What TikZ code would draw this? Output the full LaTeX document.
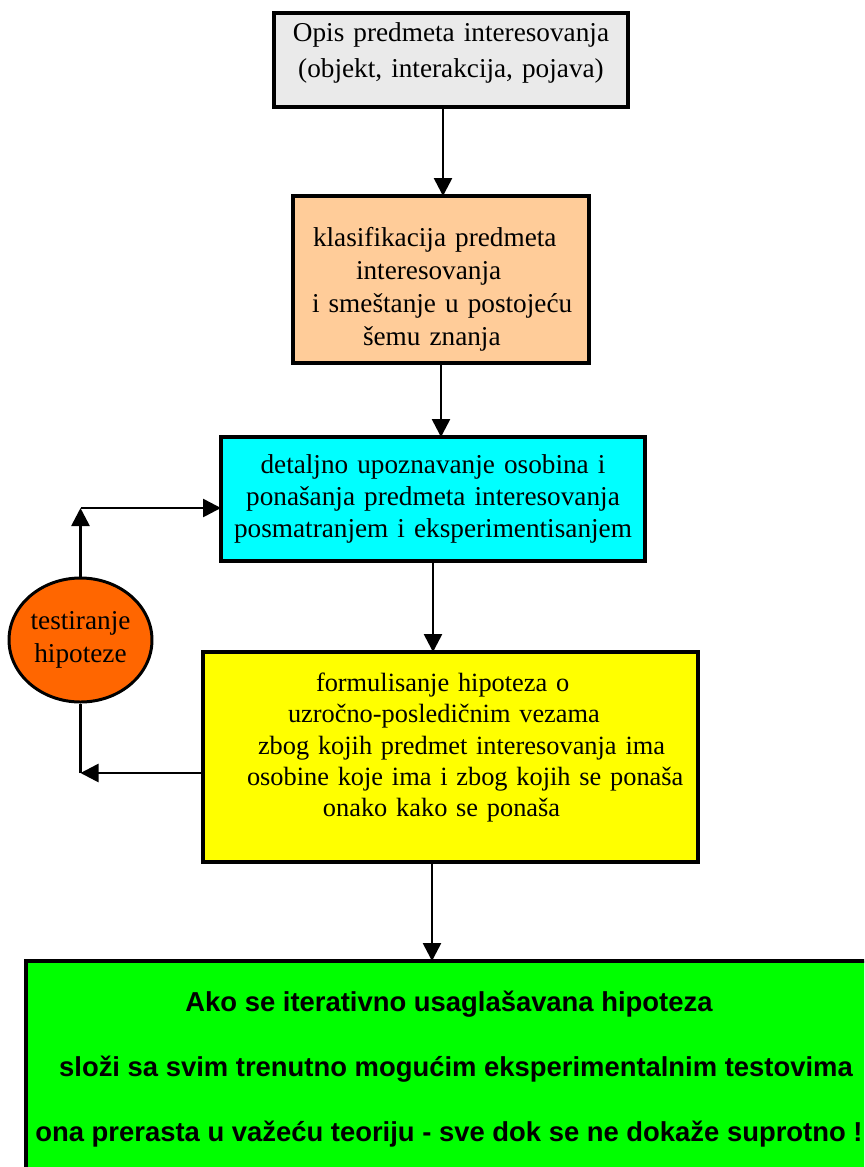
\documentclass[tikz,border=0pt]{standalone}
\usepackage{fontspec}
\setmainfont{Liberation Serif}
\newfontfamily\headfont{Liberation Sans}
\usepackage{xcolor}
\definecolor{greybox}{RGB}{234,234,234}
\definecolor{peach}{RGB}{255,204,153}
\definecolor{aqua}{RGB}{0,255,255}
\definecolor{lemon}{RGB}{255,255,0}
\definecolor{brightgreen}{RGB}{0,255,0}
\definecolor{tangerine}{RGB}{255,102,0}
\usetikzlibrary{arrows.meta,positioning,shapes.geometric}

\begin{document}
\begin{tikzpicture}[>={Triangle[length=0.36cm,width=0.36cm]}, line width=1.5pt,
    stage/.style={draw, rectangle, line width=1.9pt, inner xsep=0pt, inner ysep=0pt,
                  outer sep=0pt, font=\fontsize{15.5}{18}\selectfont},
    flow/.style={->},
    link/.style={-}]
    \useasboundingbox (0,0) rectangle (17.28,-23.34);
    \clip (0,0) rectangle (17.28,-23.34);

    % Stages of the method, top to bottom
    \node[stage, fill=greybox, text width=7.08cm, align=center, minimum height=1.88cm,
          text height=2.7pt, font=\fontsize{15.5}{20}\selectfont] (opis) at (9.02,-1.2)
          {Opis predmeta interesovanja\\(objekt, interakcija, pojava)};
    \node[stage, fill=peach, text width=5.92cm, align=left, minimum height=3.34cm,
          text height=22pt, font=\fontsize{15.5}{18.8}\selectfont]
          (klas) [below=1.78cm of opis, xshift=-0.2cm]
          {\hspace*{0.4cm}klasifikacija predmeta\\
           \hspace*{1.26cm}interesovanja\\
           \hspace*{0.38cm}i smeštanje u postojeću\\
           \hspace*{1.4cm}šemu znanja};
    \node[stage, fill=aqua, text width=8.48cm, align=center, minimum height=2.48cm]
          (upoz) [below=1.48cm of klas, xshift=-0.16cm]
          {detaljno upoznavanje osobina i\\
           ponašanja predmeta interesovanja\\
           posmatranjem i eksperimentisanjem};
    \node[stage, fill=lemon, text width=9.9cm, align=left, minimum height=4.2cm,
          text height=0pt, font=\fontsize{15}{17.8}\selectfont]
          (hipo) [below=1.82cm of upoz, xshift=0.35cm]
          {\hspace*{2.26cm}formulisanje hipoteza o\\
           \hspace*{1.7cm}uzročno-posledičnim vezama\\
           \hspace*{1.1cm}zbog kojih predmet interesovanja ima\\
           \hspace*{0.88cm}osobine koje ima i zbog kojih se ponaša\\
           \hspace*{2.4cm}onako kako se ponaša};
    % runs off the right edge of the page
    \node[stage, fill=brightgreen, minimum width=17.2cm, align=center, minimum height=4.32cm,
          font=\headfont\bfseries\fontsize{15.6}{37}\selectfont]
          (teor) [below=1.98cm of hipo, xshift=0.11cm]
          {Ako se iterativno usaglašavana hipoteza\hspace*{0.28cm}\\
           složi sa svim trenutno mogućim eksperimentalnim testovima\hspace*{0.28cm}\\
           ona prerasta u važeću teoriju - sve dok se ne dokaže suprotno !\hspace*{0.28cm}};

    % Testing loop
    \node[draw, ellipse, fill=tangerine, line width=1.7pt, inner sep=0pt,
          minimum width=2.86cm, minimum height=2.48cm, align=center,
          font=\fontsize{15.5}{18.8}\selectfont] (test) at (1.61,-12.8)
          {testiranje\\hipoteze};

    \coordinate (s1) at ([xshift=-0.16cm]opis.south);
    \coordinate (s4) at ([xshift=-0.37cm]hipo.south);
    \coordinate (hipoOut) at ([yshift=-0.32cm]hipo.west);
    \coordinate (loopLow) at (test |- hipoOut);
    \coordinate (upozIn) at ([yshift=-0.18cm]upoz.west);
    \coordinate (loopHigh) at (test |- upozIn);

    % Connectors
    \draw[flow] (s1) -- (s1 |- klas.north);
    \draw[flow] (klas.south) -- (klas.south |- upoz.north);
    \draw[flow] (upoz.south) -- (upoz.south |- hipo.north);
    \draw[flow] (s4) -- (s4 |- teor.north);
    \draw[flow] (hipoOut) -- (loopLow);
    \draw[link] (loopLow) -- (test.south);
    \draw[flow] (test.north) -- (loopHigh);
    \draw[flow] (loopHigh) -- (upozIn);
\end{tikzpicture}
\end{document}
